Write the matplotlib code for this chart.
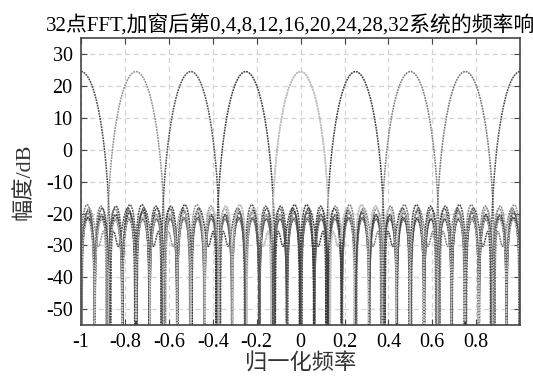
import numpy as np
import matplotlib
matplotlib.use("Agg")
import matplotlib.pyplot as plt

# ---- data ----
n_fft = 32                                   # FFT length
channels = [0, 4, 8, 12, 16, 20, 24, 28, 32]  # channel indices plotted
n_freq = 2048                                # frequency evaluation points
x_ticks = [-1, -0.8, -0.6, -0.4, -0.2, 0, 0.2, 0.4, 0.6, 0.8]
x_tick_labels = ["-1", "-0.8", "-0.6", "-0.4", "-0.2", "0", "0.2", "0.4", "0.6", "0.8"]
y_ticks = [30, 20, 10, 0, -10, -20, -30, -40, -50]
title = "32点FFT,加窗后第0,4,8,12,16,20,24,28,32系统的频率响应"
xlabel = "归一化频率"
ylabel = "幅度/dB"

# ---- styles ----
line_colors = ["#9a9a9a", "#3c3c3c", "#7c7c7c", "#747474", "#4a4a4a",
               "#8e8e8e", "#505050", "#3a3a3a", "#c4c4c4"]

fam = ["Liberation Serif", "Noto Sans CJK SC"]
plt.rcParams["font.family"] = fam
plt.rcParams["axes.unicode_minus"] = False

fig = plt.figure(figsize=(5.33, 3.78), dpi=100)
ax = fig.add_axes([0.152, 0.140, 0.824, 0.759])

# Hamming-windowed DFT channel responses
n = np.arange(n_fft)
win = 0.54 - 0.46 * np.cos(2 * np.pi * n / (n_fft - 1))
f = np.linspace(-1, 1, n_freq, endpoint=False)
for k, c in zip(channels, line_colors):
    h = win * np.exp(1j * 2 * np.pi * k * n / n_fft)
    H = np.exp(-1j * np.pi * np.outer(f, n)) @ h
    mag = 20 * np.log10(np.abs(H) + 1e-12)
    ax.plot(f, mag, color=c, lw=1.1, linestyle=(0, (1.2, 0.6)))

ax.set_xlim(-1, 1)
ax.set_ylim(-55, 35)
ax.set_xticks(x_ticks)
ax.set_xticklabels(x_tick_labels)
ax.set_yticks(y_ticks)
ax.grid(True, linestyle=(0, (4, 3)), color="#d4d4d4", lw=0.9)
ax.tick_params(direction="in", labelsize=14.5, length=4, top=True, right=True,
               color="#444444", pad=6)
for s in ax.spines.values():
    s.set_color("#444444")
    s.set_linewidth(1.2)

ax.set_title(title, fontsize=15, pad=5, family=fam)
ax.set_xlabel(xlabel, fontsize=16, labelpad=1, color="#333333", family=fam)
ax.set_ylabel(ylabel, fontsize=16, labelpad=8, color="#333333", family=fam)

fig.savefig("out.png", dpi=100)
